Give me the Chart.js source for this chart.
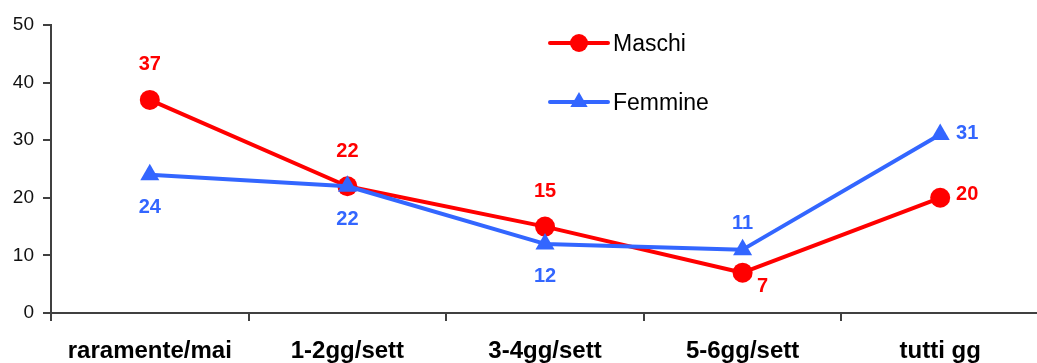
<!DOCTYPE html>
<html>
<head>
<meta charset="utf-8">
<script src="https://cdn.jsdelivr.net/npm/chart.js@4/dist/chart.umd.min.js"></script>
<style>
  html, body { margin: 0; padding: 0; background: #fff; overflow: hidden; }
  canvas { display: block; }
</style>
</head>
<body>
<canvas id="c" width="1050" height="363"></canvas>
<script>
// Frequency categories and percentages per group
const categories = ['raramente/mai', '1-2gg/sett', '3-4gg/sett', '5-6gg/sett', 'tutti gg'];
const maschi = [37, 22, 15, 7, 20];
const femmine = [24, 22, 12, 11, 31];
const yTicks = [0, 10, 20, 30, 40, 50];
const seriesNames = ['Maschi', 'Femmine'];

// Where each value label sits relative to its point
const maschiLabelSide = ['above', 'above', 'above', 'belowRight', 'right'];
const femmineLabelSide = ['below', 'below', 'below', 'above', 'right'];

const FONT = '"Liberation Sans", Arial, Helvetica, sans-serif';
const RED = '#FF0000';
const BLUE = '#3366FF';
const AXIS = '#404040';

// Pixel offsets for each label side, per series (marker shapes differ)
const labelOffsets = {
  Maschi:  { above: [0, -35], below: [0, 33], right: [27, -3], belowRight: [20, 14] },
  Femmine: { above: [0, -26], below: [0, 33], right: [27, -1], belowRight: [20, 14] }
};

const valueLabels = {
  id: 'valueLabels',
  afterDatasetsDraw(chart) {
    const ctx = chart.ctx;
    ctx.save();
    ctx.font = 'bold 20px ' + FONT;
    ctx.textAlign = 'center';
    ctx.textBaseline = 'middle';
    chart.data.datasets.forEach((ds, di) => {
      const meta = chart.getDatasetMeta(di);
      const sides = ds.labelSides;
      const offs = labelOffsets[ds.label];
      ctx.fillStyle = ds.borderColor;
      meta.data.forEach((pt, i) => {
        const o = offs[sides[i]];
        const text = String(Math.round(ds.data[i]));
        ctx.fillText(text, pt.x + o[0], pt.y + o[1]);
      });
    });
    ctx.restore();
  }
};

function drawMarker(ctx, style, r, x, y) {
  ctx.beginPath();
  if (style === 'triangle') {
    for (let k = 0; k < 3; k++) {
      const a = k * 2 * Math.PI / 3;
      const px = x + Math.sin(a) * r, py = y - Math.cos(a) * r;
      if (k === 0) ctx.moveTo(px, py); else ctx.lineTo(px, py);
    }
    ctx.closePath();
  } else {
    ctx.arc(x, y, r, 0, Math.PI * 2);
  }
  ctx.fill();
}

// Legend: a short line with the series marker, then the name
const lineLegend = {
  id: 'lineLegend',
  afterDraw(chart) {
    const ctx = chart.ctx;
    const x0 = 550, x1 = 608, rows = [43, 102];
    ctx.save();
    chart.data.datasets.forEach((ds, di) => {
      const y = rows[di];
      ctx.strokeStyle = ds.borderColor;
      ctx.fillStyle = ds.borderColor;
      ctx.lineWidth = 4;
      ctx.lineCap = 'round';
      ctx.beginPath();
      ctx.moveTo(x0, y);
      ctx.lineTo(x1, y);
      ctx.stroke();
      drawMarker(ctx, ds.pointStyle, ds.pointStyle === 'triangle' ? 10 : 9, (x0 + x1) / 2, y);
      ctx.fillStyle = '#000';
      ctx.font = '23px ' + FONT;
      ctx.textAlign = 'left';
      ctx.textBaseline = 'middle';
      ctx.fillText(ds.label, x1 + 5, y + 2);
    });
    ctx.restore();
  }
};

new Chart(document.getElementById('c'), {
  type: 'line',
  data: {
    labels: categories,
    datasets: [
      {
        label: seriesNames[0],
        data: maschi,
        labelSides: maschiLabelSide,
        borderColor: RED,
        backgroundColor: RED,
        borderWidth: 4,
        pointStyle: 'circle',
        pointRadius: 10,
        pointHoverRadius: 10,
        pointBorderWidth: 0,
        tension: 0,
        order: 1,
        clip: false
      },
      {
        label: seriesNames[1],
        data: femmine,
        labelSides: femmineLabelSide,
        borderColor: BLUE,
        backgroundColor: BLUE,
        borderWidth: 4,
        pointStyle: 'triangle',
        pointRadius: 11,
        pointHoverRadius: 11,
        pointBorderWidth: 0,
        tension: 0,
        order: 0,
        clip: false
      }
    ]
  },
  options: {
    responsive: false,
    animation: false,
    events: [],
    layout: { padding: { top: 25, right: 1, left: 0, bottom: 0 } },
    plugins: {
      legend: { display: false },
      tooltip: { enabled: false }
    },
    elements: { line: { borderCapStyle: 'round', borderJoinStyle: 'round' } },
    scales: {
      x: {
        type: 'category',
        offset: true,
        border: { color: AXIS, width: 2 },
        grid: { offset: true, drawOnChartArea: false, tickLength: 8, color: AXIS, lineWidth: 2 },
        ticks: { font: { family: FONT, size: 24, weight: 'bold' }, color: '#000', padding: 16, maxRotation: 0, autoSkip: false },
        afterFit(s) { s.height = 50; }
      },
      y: {
        min: 0,
        max: 50,
        afterBuildTicks(s) { s.ticks = yTicks.map(v => ({ value: v })); },
        border: { color: AXIS, width: 2 },
        grid: { drawOnChartArea: false, tickLength: 8, color: AXIS, lineWidth: 2 },
        ticks: { font: { family: FONT, size: 19 }, color: '#111', padding: 9 },
        afterFit(s) { s.width = 51; }
      }
    }
  },
  plugins: [valueLabels, lineLegend]
});
</script>
</body>
</html>
